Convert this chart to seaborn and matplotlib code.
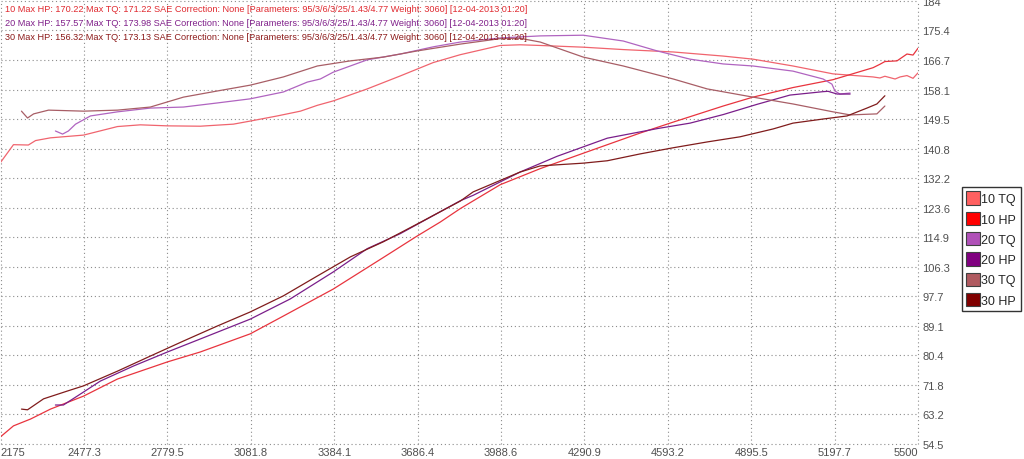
import numpy as np
import pandas as pd
import matplotlib
matplotlib.use('Agg')
import matplotlib.pyplot as plt
import seaborn as sns
from matplotlib.patches import Patch

# dyno runs, values (rpm, TQ ft-lb / HP)
TQ10_RPM = [2175, 2222, 2276, 2302, 2356, 2476, 2599, 2682, 2780, 2899, 3019, 3080, 3178, 3262,
            3323, 3381, 3504, 3624, 3743, 3841, 3986, 4058, 4131, 4287, 4432, 4613, 4794, 4902,
            5047, 5192, 5337, 5362, 5380, 5417, 5435, 5460, 5482, 5500]
TQ10 = [136.8, 142.0, 141.9, 143.2, 144.0, 144.8, 147.3, 147.8, 147.5, 147.4, 148.0, 148.9, 150.4, 151.8,
        153.5, 154.8, 158.3, 162.1, 166.0, 168.3, 171.0, 171.2, 171.0, 170.5, 169.8, 169.1, 167.9, 167.0,
        165.0, 162.7, 161.8, 161.5, 162.0, 161.2, 161.8, 162.2, 161.4, 163.0]
HP10_RPM = [2175, 2222, 2284, 2356, 2476, 2599, 2780, 2899, 3080, 3200, 3381, 3562, 3685, 3769,
            3841, 3986, 4131, 4287, 4493, 4613, 4794, 4902, 5047, 5192, 5337, 5362, 5380, 5424,
            5460, 5482, 5500]
HP10 = [56.6, 59.8, 61.8, 64.7, 68.5, 73.5, 78.5, 81.4, 86.7, 91.9, 99.8, 109.0, 115.3, 119.4,
        123.3, 130.3, 135.0, 139.5, 145.4, 148.6, 153.3, 155.9, 158.7, 161.0, 164.5, 165.5, 166.3, 166.5,
        168.5, 168.2, 170.2]

TQ20_RPM = [2374, 2400, 2421, 2447, 2501, 2599, 2718, 2838, 2961, 3080, 3200, 3287, 3334, 3381,
            3504, 3624, 3743, 3841, 3986, 4131, 4287, 4432, 4555, 4674, 4794, 4902, 5047, 5156,
            5188, 5199, 5217, 5254]
TQ20 = [146.0, 145.1, 146.0, 148.0, 150.4, 151.6, 152.7, 153.0, 154.2, 155.4, 157.4, 160.3, 161.2, 163.2,
        166.8, 168.5, 170.6, 172.0, 173.2, 173.8, 174.0, 172.3, 169.4, 167.0, 165.6, 165.0, 163.5, 161.2,
        159.7, 157.7, 156.8, 157.1]
HP20_RPM = [2374, 2403, 2476, 2537, 2657, 2780, 2899, 3080, 3225, 3381, 3504, 3624, 3841, 3888,
            4058, 4192, 4374, 4555, 4674, 4794, 4917, 5036, 5156, 5174, 5207, 5254]
HP20 = [65.9, 65.9, 69.7, 72.9, 77.3, 81.4, 85.2, 91.0, 96.9, 104.8, 111.6, 116.0, 125.6, 127.2,
        134.0, 138.6, 143.9, 146.7, 148.3, 150.8, 153.8, 156.5, 157.5, 157.6, 156.8, 156.8]

TQ30_RPM = [2251, 2273, 2295, 2349, 2476, 2599, 2718, 2838, 2961, 3080, 3200, 3323, 3443, 3562,
            3685, 3841, 3986, 4058, 4131, 4287, 4432, 4613, 4736, 4902, 5047, 5192, 5254, 5351, 5380]
TQ30 = [151.8, 149.8, 151.0, 152.1, 151.8, 152.1, 153.0, 155.9, 157.7, 159.4, 161.8, 165.0, 166.5, 167.6,
        169.4, 171.4, 173.0, 173.1, 172.0, 167.6, 165.0, 161.2, 158.3, 155.9, 153.9, 151.6, 150.7, 151.0, 153.3]
HP30_RPM = [2251, 2273, 2331, 2418, 2476, 2599, 2718, 2838, 2961, 3080, 3200, 3323, 3443, 3562,
            3685, 3841, 3888, 4058, 4131, 4287, 4374, 4493, 4613, 4736, 4855, 4975, 5047, 5156,
            5243, 5315, 5351, 5380]
HP30 = [64.7, 64.5, 67.7, 70.0, 71.5, 75.8, 80.2, 84.6, 89.0, 93.1, 97.8, 103.6, 109.2, 113.6,
        118.8, 125.5, 128.2, 134.0, 135.8, 136.6, 137.3, 139.3, 141.1, 142.8, 144.3, 146.6, 148.3, 149.5,
        150.4, 152.7, 153.9, 156.3]

SERIES = ['10 TQ', '10 HP', '20 TQ', '20 HP', '30 TQ', '30 HP']
LINE_COLORS = ['#f0646e', '#e8343e', '#b064c0', '#7a1e8a', '#a85e66', '#801c1c']
LEGEND_COLORS = ['#ff6060', '#ff0000', '#b050b8', '#800080', '#b05a60', '#800000']

X_TICKS = [2175, 2477.3, 2779.5, 3081.8, 3384.1, 3686.4, 3988.6, 4290.9, 4593.2, 4895.5, 5197.7, 5500]
Y_TICKS = [54.5, 63.2, 71.8, 80.4, 89.1, 97.7, 106.3, 114.9, 123.6, 132.2, 140.8, 149.5,
           158.1, 166.7, 175.4, 184]

HEADERS = [
    '10 Max HP: 170.22 Max TQ: 171.22 SAE Correction: None [Parameters: 95/3/6/3/25/1.43/4.77 Weight: 3060] [12-04-2013 01:20]',
    '20 Max HP: 157.57 Max TQ: 173.98 SAE Correction: None [Parameters: 95/3/6/3/25/1.43/4.77 Weight: 3060] [12-04-2013 01:20]',
    '30 Max HP: 156.32 Max TQ: 173.13 SAE Correction: None [Parameters: 95/3/6/3/25/1.43/4.77 Weight: 3060] [12-04-2013 01:20]',
]
HEADER_COLORS = ['#e02a30', '#80208a', '#8c1a1a']

# long table for seaborn
runs = [(TQ10_RPM, TQ10), (HP10_RPM, HP10), (TQ20_RPM, TQ20),
        (HP20_RPM, HP20), (TQ30_RPM, TQ30), (HP30_RPM, HP30)]
frames = []
for name, (rpm, val) in zip(SERIES, runs):
    frames.append(pd.DataFrame({'series': name, 'rpm': rpm, 'value': val}))
df = pd.concat(frames, ignore_index=True)

sns.set_theme(style='white')
plt.rcParams['font.family'] = ['Liberation Sans', 'DejaVu Sans']

fig = plt.figure(figsize=(10.24, 4.6), dpi=100)
ax = fig.add_axes([0.5 / 1024, 15 / 460, 917.5 / 1024, 443 / 460])

sns.lineplot(data=df, x='rpm', y='value', hue='series', hue_order=SERIES,
             palette=dict(zip(SERIES, LINE_COLORS)), estimator=None, sort=False,
             linewidth=0.9, legend=False, ax=ax)

ax.set_xlim(X_TICKS[0], X_TICKS[-1])
ax.set_ylim(Y_TICKS[0], Y_TICKS[-1])
ax.set_xticks(X_TICKS)
ax.set_xticklabels([f'{t:g}' for t in X_TICKS])
ax.set_yticks(Y_TICKS)
ax.set_yticklabels([f'{t:g}' for t in Y_TICKS])
ax.yaxis.tick_right()
ax.tick_params(length=0, labelsize=8, labelcolor='#505050', pad=3)
ax.tick_params(axis='x', pad=2)
xl = ax.get_xticklabels()
xl[0].set_ha('left')
xl[-1].set_ha('right')
ax.set_xlabel('')
ax.set_ylabel('')
for s in ax.spines.values():
    s.set_visible(False)
ax.grid(True, color='#8c8c8c', linestyle=(0, (1, 2.5)), linewidth=0.8)
for gl in ax.get_xgridlines() + ax.get_ygridlines():
    gl.set_clip_on(False)

for i, (txt, col) in enumerate(zip(HEADERS, HEADER_COLORS)):
    fig.text(5 / 1024, 1 - (9 + 14 * i) / 460, txt, color=col, fontsize=6.6,
             va='center', ha='left')

handles = [Patch(facecolor=c, edgecolor='#404040', linewidth=0.8, label=n)
           for n, c in zip(SERIES, LEGEND_COLORS)]
leg = fig.legend(handles=handles, loc='upper left', bbox_to_anchor=(962 / 1024, 1 - 188 / 460),
                 frameon=True, fancybox=False, edgecolor='black', fontsize=9,
                 handlelength=1.05, handleheight=1.25, handletextpad=0.15,
                 labelspacing=0.52, borderpad=0.35, borderaxespad=0)
leg.get_frame().set_linewidth(1.0)

fig.savefig('out.png', dpi=100)
